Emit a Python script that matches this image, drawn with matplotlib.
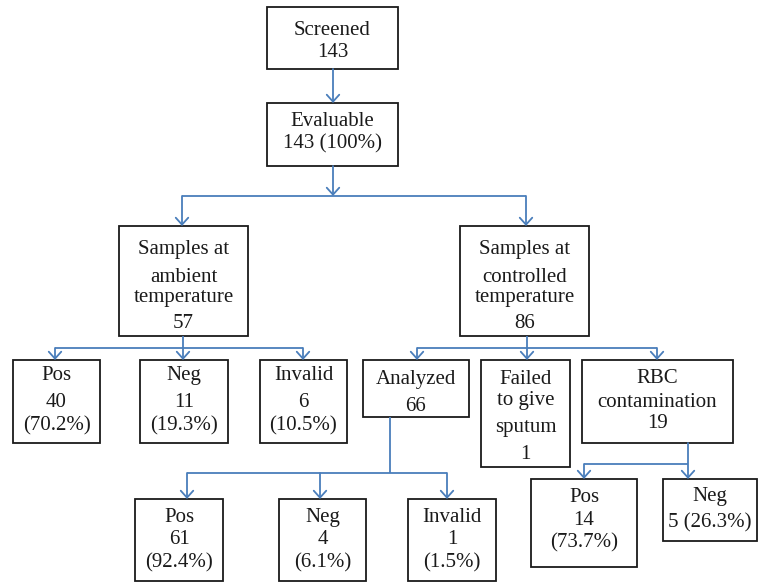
import matplotlib.pyplot as plt
from matplotlib.patches import Rectangle

# --- data ---
screened = 143
evaluable = 143
ambient_total = 57
controlled_total = 86
ambient_counts = [40, 11, 6]
ambient_pct = [70.2, 19.3, 10.5]
controlled_counts = [66, 1, 19]   # analyzed, failed sputum, RBC contamination
analyzed_counts = [61, 4, 1]
analyzed_pct = [92.4, 6.1, 1.5]
rbc_counts = [14, 5]
rbc_pct = [73.7, 26.3]

labels = {
    'screened': ['Screened', f'{screened}'],
    'evaluable': ['Evaluable', f'{evaluable} (100%)'],
    'ambient': ['Samples at', 'ambient', 'temperature', f'{ambient_total}'],
    'controlled': ['Samples at', 'controlled', 'temperature', f'{controlled_total}'],
    'amb_pos': ['Pos', f'{ambient_counts[0]}', f'({ambient_pct[0]}%)'],
    'amb_neg': ['Neg', f'{ambient_counts[1]}', f'({ambient_pct[1]}%)'],
    'amb_inv': ['Invalid', f'{ambient_counts[2]}', f'({ambient_pct[2]}%)'],
    'analyzed': ['Analyzed', f'{controlled_counts[0]}'],
    'failed': ['Failed', 'to give', 'sputum', f'{controlled_counts[1]}'],
    'rbc': ['RBC', 'contamination', f'{controlled_counts[2]}'],
    'an_pos': ['Pos', f'{analyzed_counts[0]}', f'({analyzed_pct[0]}%)'],
    'an_neg': ['Neg', f'{analyzed_counts[1]}', f'({analyzed_pct[1]}%)'],
    'an_inv': ['Invalid', f'{analyzed_counts[2]}', f'({analyzed_pct[2]}%)'],
    'rbc_pos': ['Pos', f'{rbc_counts[0]}', f'({rbc_pct[0]}%)'],
    'rbc_neg': ['Neg', f'{rbc_counts[1]} ({rbc_pct[1]}%)'],
}

# --- layout (pixel coords, y down): box (x0, y0, x1, y1), text baselines ---
layout = {
    'screened': ((267, 7, 398, 69), [35, 57]),
    'evaluable': ((267, 103, 398, 166), [126, 148]),
    'ambient': ((119, 226, 248, 336), [254, 282, 302, 328]),
    'controlled': ((460, 226, 589, 336), [254, 282, 302, 328]),
    'amb_pos': ((13, 360, 100, 443), [380, 407, 430]),
    'amb_neg': ((140, 360, 228, 443), [380, 407, 430]),
    'amb_inv': ((260, 360, 347, 443), [380, 407, 430]),
    'analyzed': ((363, 360, 469, 417), [384, 411]),
    'failed': ((481, 360, 570, 467), [384, 405, 432, 459]),
    'rbc': ((582, 360, 733, 443), [383, 407, 428]),
    'an_pos': ((135, 499, 223, 581), [522, 544, 567]),
    'an_neg': ((279, 499, 366, 581), [522, 544, 567]),
    'an_inv': ((408, 499, 496, 581), [522, 544, 567]),
    'rbc_pos': ((531, 479, 637, 567), [502, 525, 547]),
    'rbc_neg': ((663, 479, 757, 541), [501, 527]),
}

W, H = 758, 583
fig = plt.figure(figsize=(W / 100, H / 100), dpi=100)
ax = fig.add_axes([0, 0, 1, 1])
ax.set_xlim(0, W)
ax.set_ylim(H, 0)
ax.axis('off')

LINE = '#4a7ebb'
FONT = 'Liberation Serif'

for key, ((x0, y0, x1, y1), baselines) in layout.items():
    ax.add_patch(Rectangle((x0, y0), x1 - x0, y1 - y0, fill=False,
                           edgecolor='#1a1a1a', lw=1.3, clip_on=False))
    cx = (x0 + x1) / 2
    for txt, yb in zip(labels[key], baselines):
        ax.text(cx, yb, txt, ha='center', va='baseline', fontsize=15,
                family=FONT, color='#1a1a1a')


def line(xs, ys):
    ax.plot(xs, ys, color=LINE, lw=1.3, solid_capstyle='butt')


def arrow(x, y0, y1):
    ax.annotate('', xy=(x, y1), xytext=(x, y0),
                arrowprops=dict(arrowstyle='->,head_length=0.5,head_width=0.45',
                                color=LINE, lw=1.3, mutation_scale=10,
                                shrinkA=0, shrinkB=0))


# screened -> evaluable
arrow(333, 69, 103)
# evaluable -> two temperature groups
arrow(333, 166, 196)
line([182, 526], [196, 196])
arrow(182, 196, 226)
arrow(526, 196, 226)
# ambient -> pos/neg/invalid
line([183, 183], [336, 348])
line([55, 303], [348, 348])
for x in [55, 183, 303]:
    arrow(x, 348, 360)
# controlled -> analyzed/failed/rbc
line([527, 527], [336, 348])
line([417, 657], [348, 348])
for x in [417, 527, 657]:
    arrow(x, 348, 360)
# analyzed -> pos/neg/invalid
line([390, 390], [417, 473])
line([187, 447], [473, 473])
for x in [187, 320, 447]:
    arrow(x, 473, 499)
# rbc -> pos/neg
arrow(688, 443, 479)
line([584, 688], [464, 464])
arrow(584, 464, 479)

fig.savefig('out.png', dpi=100, facecolor='white')
